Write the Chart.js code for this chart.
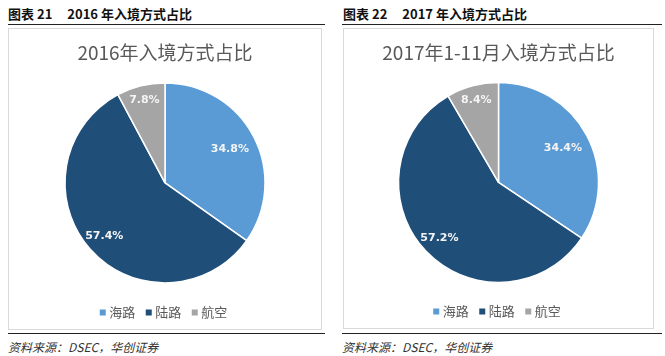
<!DOCTYPE html>
<html>
<head>
<meta charset="utf-8">
<script src="https://cdn.jsdelivr.net/npm/chart.js@4"></script>
<style>
  html, body { margin:0; padding:0; background:#fff; }
  body { width:665px; height:356px; position:relative; overflow:hidden; font-family:"Noto Sans CJK SC", "Liberation Sans", sans-serif; }
  .hdr { position:absolute; top:5px; font-size:13px; font-weight:bold; color:#111; white-space:nowrap; line-height:18px; }
  .hdr .num { margin-left:3px; margin-right:15px; }
  .rule { position:absolute; height:0; border-top:1.5px solid #222; }
  .box { position:absolute; border:1px solid #d9d9d9; box-sizing:border-box; }
  .box canvas { position:absolute; left:0; top:0; }
  .src { position:absolute; top:339px; font-size:12px; font-style:italic; color:#333; white-space:nowrap; line-height:16px; }
</style>
</head>
<body>
<div class="hdr" style="left:8px">图表<span class="num">21</span>2016 年入境方式占比</div>
<div class="rule" style="left:8px; width:317px; top:24px"></div>
<div class="box" style="left:8px; top:28px; width:314px; height:302px"><canvas id="c1" width="312" height="300"></canvas></div>
<div class="rule" style="left:8px; width:317px; top:333px"></div>
<div class="src" style="left:8px">资料来源：DSEC，华创证券</div>

<div class="hdr" style="left:343px">图表<span class="num">22</span>2017 年入境方式占比</div>
<div class="rule" style="left:342px; width:320px; top:24px"></div>
<div class="box" style="left:343px; top:28px; width:311px; height:301px"><canvas id="c2" width="309" height="299"></canvas></div>
<div class="rule" style="left:342px; width:320px; top:333px"></div>
<div class="src" style="left:342px">资料来源：DSEC，华创证券</div>

<script>
const categories = ['海路', '陆路', '航空'];
const values2016 = [34.8, 57.4, 7.8];
const values2017 = [34.4, 57.2, 8.4];
const title2016 = '2016年入境方式占比';
const title2017 = '2017年1-11月入境方式占比';

const sliceColors = ['#5b9bd5', '#1f4e79', '#a5a5a5'];
const labelRadiusRatio = [0.73, 0.81, 0.85];

const pieLabels = {
  id: 'pieLabels',
  afterDatasetsDraw(chart) {
    const ctx = chart.ctx;
    const ds = chart.data.datasets[0];
    const meta = chart.getDatasetMeta(0);
    ctx.save();
    ctx.font = 'bold 11px "DejaVu Sans", sans-serif';
    ctx.fillStyle = '#f4f4f4';
    ctx.textAlign = 'center';
    ctx.textBaseline = 'middle';
    meta.data.forEach((arc, i) => {
      const p = arc.getProps(['x', 'y', 'startAngle', 'endAngle', 'outerRadius'], true);
      const mid = (p.startAngle + p.endAngle) / 2;
      const r = p.outerRadius * labelRadiusRatio[i];
      ctx.fillText(ds.data[i].toFixed(1) + '%', p.x + Math.cos(mid) * r, p.y + Math.sin(mid) * r);
    });
    ctx.restore();
  }
};

function makePie(id, title, values) {
  new Chart(document.getElementById(id), {
    type: 'pie',
    data: {
      labels: categories,
      datasets: [{
        data: values,
        backgroundColor: sliceColors,
        borderColor: '#ffffff',
        borderWidth: 1.5
      }]
    },
    options: {
      responsive: false,
      maintainAspectRatio: false,
      animation: false,
      radius: 100,
      layout: { padding: 0 },
      plugins: {
        title: {
          display: true,
          text: title,
          color: '#595959',
          font: { family: '"Noto Sans CJK SC", "Liberation Sans", sans-serif', size: 19, weight: 'normal', lineHeight: 1.2 },
          padding: { top: 12, bottom: 9.5 }
        },
        legend: {
          position: 'bottom',
          labels: {
            color: '#595959',
            font: { family: '"Noto Sans CJK SC", sans-serif', size: 13 },
            usePointStyle: true,
            boxWidth: 0.01,
            boxHeight: 6,
            padding: 13.5,
            generateLabels: (chart) => chart.data.labels.map((t, i) => ({
              text: t,
              fillStyle: sliceColors[i],
              strokeStyle: sliceColors[i],
              lineWidth: 0,
              pointStyle: 'rect',
              hidden: false,
              index: i,
              fontColor: '#595959'
            }))
          }
        },
        tooltip: { enabled: false }
      }
    },
    plugins: [pieLabels]
  });
}

makePie('c1', title2016, values2016);
makePie('c2', title2017, values2017);
</script>
</body>
</html>
